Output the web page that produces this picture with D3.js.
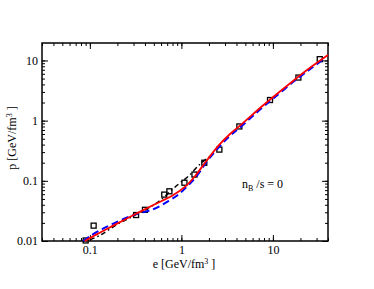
<!DOCTYPE html>
<html>
<head>
<meta charset="utf-8">
<script src="https://cdn.jsdelivr.net/npm/d3@7"></script>
<style>
  body { margin: 0; background: #fff; }
  text { font-family: "Liberation Serif", "DejaVu Serif", serif; fill: #000; }
</style>
</head>
<body>
<div id="chart"></div>
<script>
const W = 374, H = 289;
const margin = { top: 43, right: 46, bottom: 48, left: 42 };
const width = W - margin.left - margin.right,
  height = H - margin.top - margin.bottom;

// red solid curve (e, p)
const redE = [0.088, 0.12, 0.18, 0.3, 0.5, 0.8, 1.1, 1.4, 1.9, 2.6, 3.4, 4.5, 7.5, 10, 17, 25, 40];
const redP = [0.01, 0.013, 0.018, 0.027, 0.04, 0.057, 0.08, 0.118, 0.22, 0.4, 0.6, 0.86, 1.7, 2.45, 4.7, 7.4, 12.3];

// blue dashed curve
const blueE = [0.085, 0.1, 0.15, 0.3, 0.5, 0.72, 0.9, 1.15, 1.46, 1.9, 2.6, 3.4, 4.5, 7.5, 10, 17, 25, 35];
const blueP = [0.01, 0.012, 0.017, 0.027, 0.034, 0.046, 0.057, 0.08, 0.118, 0.21, 0.37, 0.56, 0.8, 1.6, 2.3, 4.5, 7.0, 10.3];

// black squares (data points)
const sqE = [0.09, 0.11, 0.32, 0.4, 0.65, 0.74, 1.08, 1.39, 1.78, 2.6, 4.3, 9.3, 19, 32.5];
const sqP = [0.0102, 0.018, 0.027, 0.033, 0.059, 0.067, 0.093, 0.127, 0.2, 0.33, 0.8, 2.2, 5.2, 10.5];

// black dash-dot line
const dotE = [0.1, 0.13, 0.2, 0.3, 0.55, 0.92, 1.2, 1.6, 2.0];
const dotP = [0.0105, 0.0125, 0.019, 0.026, 0.044, 0.087, 0.12, 0.19, 0.25];

const xTicks = [0.1, 1, 10];
const yTicks = [0.01, 0.1, 1, 10];

const svg = d3.select("#chart").append("svg")
  .attr("width", W).attr("height", H);

const x = d3.scaleLog().domain([0.03, 40]).range([0, width]);
const y = d3.scaleLog().domain([0.01, 19.5]).range([height, 0]);

const g = svg.append("g").attr("transform", `translate(${margin.left}, ${margin.top})`);

// minor ticks for a log scale
function minors(sc) {
  const [a, b] = sc.domain();
  const out = [];
  for (let d = Math.floor(Math.log10(a)); d <= Math.ceil(Math.log10(b)); d++) {
    for (let k = 1; k < 10; k++) {
      const v = k * Math.pow(10, d);
      if (v >= a && v <= b) out.push(v);
    }
  }
  return out;
}
const fmt = d => String(d);

function axisStyle(sel) {
  sel.select(".domain").remove();
  sel.selectAll("line").attr("stroke", "#000").attr("stroke-width", 1);
  sel.selectAll("text").style("font-size", "12px");
}

// bottom
g.append("g").attr("transform", `translate(0, ${height})`)
  .call(d3.axisBottom(x).tickValues(minors(x)).tickSize(-3).tickFormat(""))
  .call(axisStyle);
g.append("g").attr("transform", `translate(0, ${height})`)
  .call(d3.axisBottom(x).tickValues(xTicks).tickSize(-6).tickPadding(4).tickFormat(fmt))
  .call(axisStyle);
// top
g.append("g")
  .call(d3.axisTop(x).tickValues(minors(x)).tickSize(-3).tickFormat(""))
  .call(axisStyle);
g.append("g")
  .call(d3.axisTop(x).tickValues(xTicks).tickSize(-6).tickFormat(""))
  .call(axisStyle);
// left
g.append("g")
  .call(d3.axisLeft(y).tickValues(minors(y)).tickSize(-3).tickFormat(""))
  .call(axisStyle);
g.append("g")
  .call(d3.axisLeft(y).tickValues(yTicks).tickSize(-6).tickPadding(4).tickFormat(fmt))
  .call(axisStyle);
// right
g.append("g").attr("transform", `translate(${width}, 0)`)
  .call(d3.axisRight(y).tickValues(minors(y)).tickSize(-3).tickFormat(""))
  .call(axisStyle);
g.append("g").attr("transform", `translate(${width}, 0)`)
  .call(d3.axisRight(y).tickValues(yTicks).tickSize(-6).tickFormat(""))
  .call(axisStyle);

g.append("rect")
  .attr("width", width).attr("height", height)
  .attr("fill", "none").attr("stroke", "#000").attr("stroke-width", 1.5);

const marks = g.append("g");

const line = d3.line()
  .curve(d3.curveCatmullRom.alpha(0.5))
  .x(d => x(d[0]))
  .y(d => y(d[1]));

// black dash-dot line
marks.append("path")
  .attr("d", line(d3.zip(dotE, dotP)))
  .attr("fill", "none")
  .attr("stroke", "#000")
  .attr("stroke-width", 1.5)
  .attr("stroke-dasharray", "5,3,1.5,3");

// squares
marks.selectAll(".sq")
  .data(d3.zip(sqE, sqP))
  .join("rect")
  .attr("class", "sq")
  .attr("x", d => x(d[0]) - 2.5)
  .attr("y", d => y(d[1]) - 2.5)
  .attr("width", 5).attr("height", 5)
  .attr("fill", "none").attr("stroke", "#000").attr("stroke-width", 1.3);

// blue dashed
marks.append("path")
  .attr("d", line(d3.zip(blueE, blueP)))
  .attr("fill", "none")
  .attr("stroke", "#0000ff")
  .attr("stroke-width", 2)
  .attr("stroke-dasharray", "7,4");

// red solid
marks.append("path")
  .attr("d", line(d3.zip(redE, redP)))
  .attr("fill", "none")
  .attr("stroke", "#ff0000")
  .attr("stroke-width", 1.8);

// labels
const xl = svg.append("text")
  .attr("x", 184).attr("y", 268)
  .attr("text-anchor", "middle")
  .style("font-size", "12px");
xl.append("tspan").text("e [GeV/fm");
xl.append("tspan").attr("dy", -4).style("font-size", "8px").text("3");
xl.append("tspan").attr("dy", 4).text(" ]");

const yl = svg.append("text")
  .attr("transform", "translate(16, 138) rotate(-90)")
  .attr("text-anchor", "middle")
  .style("font-size", "12px");
yl.append("tspan").text("p [GeV/fm");
yl.append("tspan").attr("dy", -4).style("font-size", "8px").text("3");
yl.append("tspan").attr("dy", 4).text(" ]");

const ann = svg.append("text")
  .attr("x", 242).attr("y", 188)
  .style("font-size", "12px");
ann.append("tspan").text("n");
ann.append("tspan").attr("dy", 3).style("font-size", "8px").text("B");
ann.append("tspan").attr("dy", -3).text(" /s = 0");
</script>
</body>
</html>
